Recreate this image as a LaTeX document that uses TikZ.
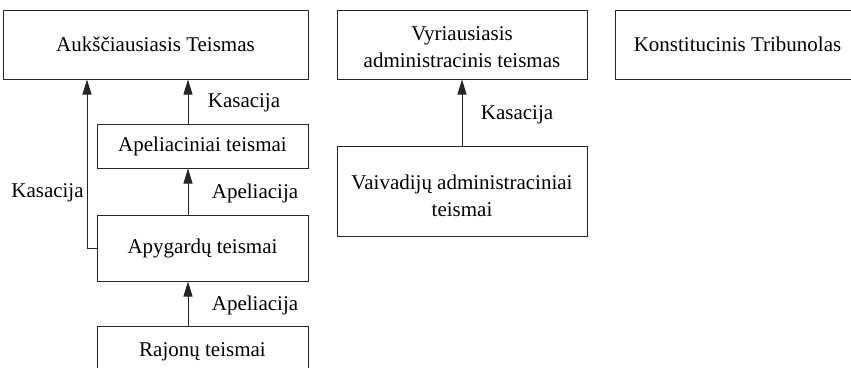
\documentclass[tikz,border=0pt]{standalone}
\usepackage{fontspec}
\setmainfont{Liberation Serif}
\usetikzlibrary{arrows.meta}
\begin{document}
\begin{tikzpicture}[x=1pt,y=-1pt,
  court/.style={draw=black!85, line width=1pt, rectangle, align=center, inner sep=0pt,
    font=\fontsize{21}{27}\selectfont},
  lbl/.style={font=\fontsize{21}{27}\selectfont, inner sep=0pt},
  arr/.style={draw=black!85, line width=1pt, -{Triangle[length=15pt,width=9pt]}}]
\useasboundingbox (0,0) rectangle (851,367);
\clip (0,0) rectangle (851,367);
% ordinary courts
\node[court, minimum width=305, minimum height=69] (sup) at (155.5,44.5) {Aukščiausiasis Teismas};
\node[court, minimum width=211, minimum height=44] (apel) at (202.5,146) {Apeliaciniai teismai};
\node[court, minimum width=211, minimum height=66] (apyg) at (202.5,248) {Apygardų teismai};
\node[court, minimum width=211, minimum height=52] (raj) at (202.5,352) {Rajonų teismai};
% administrative courts
\node[court, minimum width=250, minimum height=69] (vyr) at (462,44.5) {\rule{0pt}{19pt}Vyriausiasis\\administracinis teismas};
\node[court, minimum width=250, minimum height=90] (vaiv) at (462,191) {\rule{0pt}{25pt}Vaivadijų administraciniai\\teismai};
% constitutional tribunal
\node[court, minimum width=245, minimum height=69] (kt) at (737.5,44.5) {Konstitucinis Tribunolas};
% appeal column
\coordinate (col) at (188,0);
\coordinate (side) at (87,0);
\draw[arr] (raj.north -| col) -- (apyg.south -| col);
\draw[arr] (apyg.north -| col) -- (apel.south -| col);
\draw[arr] (apel.north -| col) -- (sup.south -| col);
\draw[arr] (apyg.west) -- (apyg.west -| side) -- (sup.south -| side);
\draw[arr] (vaiv.north) -- (vyr.south);
% edge labels
\node[lbl] (k1) at (244,103) {Kasacija};
\node[lbl] (k2) at (47.5,193) {Kasacija};
\node[lbl] (a1) at (255,193) {Apeliacija};
\node[lbl] (a2) at (255,305) {Apeliacija};
\node[lbl] (k3) at (517,115) {Kasacija};
\end{tikzpicture}
\end{document}
